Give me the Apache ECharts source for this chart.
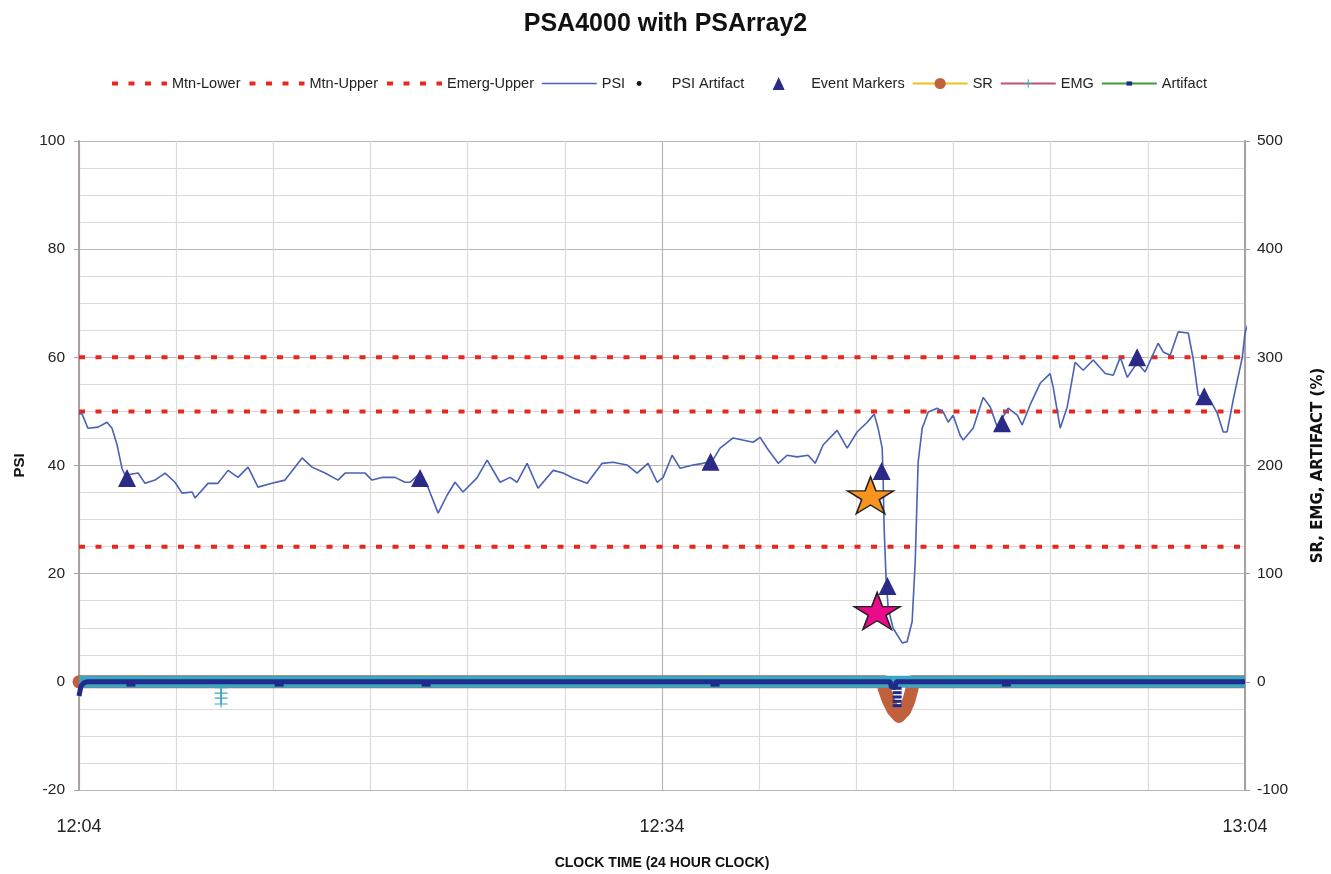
<!DOCTYPE html>
<html><head><meta charset="utf-8">
<script src="https://cdn.jsdelivr.net/npm/echarts@6/dist/echarts.min.js"></script>
<style>html,body{margin:0;padding:0;background:#fff}#c{width:1331px;height:874px}</style>
</head><body><div id="c"></div>
<script>
// ---- data ----
const xTickLabels = ['12:04', '12:34', '13:04'];
const psiMinutes = [0,0.15,0.46,0.98,1.44,1.70,1.96,2.21,2.37,3.04,3.40,3.91,4.43,4.94,5.30,5.82,5.97,6.64,7.15,7.67,8.18,8.70,9.21,9.93,10.60,11.48,11.99,12.66,13.33,13.69,14.72,15.08,15.59,16.26,16.78,17.04,17.55,17.91,18.48,18.94,19.35,19.76,20.48,21.00,21.67,22.18,22.54,23.06,23.62,24.40,24.91,25.42,26.15,26.92,27.48,28.20,28.72,29.28,29.75,30.06,30.52,30.93,31.60,32.11,32.58,32.99,33.66,34.69,35.05,35.41,35.98,36.44,36.95,37.52,37.88,38.29,39.01,39.53,40.04,40.56,40.92,41.12,41.33,41.38,41.43,41.53,41.64,41.89,42.36,42.61,42.87,43.03,43.18,43.39,43.70,44.16,44.47,44.73,44.98,45.34,45.50,46.01,46.53,46.89,47.25,47.81,48.28,48.53,48.94,49.46,49.97,50.13,50.49,50.85,51.26,51.67,52.19,52.81,53.22,53.58,53.94,54.45,54.86,55.53,55.79,56.15,56.56,57.08,57.33,57.59,58.21,58.57,58.88,59.08,59.39,59.86,60.0,60.3];
const psiValues = [49.5,49.6,46.9,47.1,48.0,46.9,43.8,39.5,38.2,38.6,36.7,37.3,38.6,36.9,34.9,35.1,34.0,36.7,36.7,39.1,37.8,39.7,36.0,36.7,37.3,41.4,39.7,38.6,37.3,38.6,38.6,37.3,37.8,37.8,36.9,36.9,38.6,36.4,31.2,34.5,36.9,35.1,37.7,41.0,36.9,37.8,36.9,40.4,35.8,39.1,38.6,37.7,36.7,40.4,40.6,40.1,38.6,40.4,36.9,37.8,41.9,39.5,40.1,40.4,40.8,43.2,45.1,44.3,45.2,43.2,40.4,41.9,41.6,41.9,40.4,43.8,46.5,43.2,46.2,48.0,49.5,46.9,43.2,37.7,28.4,19.2,13.6,9.9,7.2,7.4,11.1,22.2,40.6,46.9,49.9,50.6,49.9,48.0,49.3,45.6,44.7,46.9,52.6,50.8,47.1,50.6,49.3,47.5,51.2,55.2,57.0,54.5,46.9,50.8,59.1,57.6,59.5,57.0,56.7,60.0,56.3,59.0,57.3,62.6,61.0,60.4,64.7,64.5,59.8,53.0,52.1,49.7,46.2,46.2,52.1,60.0,64.5,67.8];
const limitMtnLower = 25;
const limitMtnUpper = 50;
const limitEmergUpper = 60;
const eventMinutes = [2.47, 17.55, 32.5, 41.3, 41.6, 47.5, 54.45, 57.9];
const eventValues = [37.7, 37.7, 40.7, 39.0, 17.7, 47.8, 60.0, 52.8];
const starMinutes = [40.73, 41.07];
const starValues = [34.5, 13.1];
const srPoints = [[0,0],[41.43,0],[41.43,-6],[41.64,-17],[41.89,-26],[42.19,-32],[42.5,-26],[42.71,-17],[42.87,-6],[42.87,0],[60,0]];
const emgLine = [[0,0],[60,0]];
const emgSpikes = [[7.31,-5.5],[7.31,-10.5],[7.31,-15],[7.31,-20.5]];
const artifactLine = [[0,-13],[0.1,-4],[0.25,-1],[0.4,0],[41.75,0],[41.8,-5],[42.0,-5],[42.05,0],[60,0]];
const artifactMarks = [[2.67,-3],[10.3,-3],[17.86,-3],[32.73,-3],[47.72,-3],[42.1,-6],[42.1,-10],[42.1,-14],[42.1,-18],[42.1,-22]];

// ---- styles ----
const F = "'Liberation Sans','Arial',sans-serif";
const RED = '#e8281e';
const DASH = [6, 10.5];
const STAR = 'path://M50,0 L61.23,34.55 L97.55,34.55 L68.17,55.9 L79.39,90.45 L50,69.1 L20.61,90.45 L31.83,55.9 L2.45,34.55 L38.77,34.55 Z';
const DOT = 'path://M0,0 M20,20 M13.5,10 A3.5,3.5 0 1 1 6.5,10 A3.5,3.5 0 1 1 13.5,10 Z';
const TRI_ICON = 'path://M0,0 M55,14 M27.5,0.5 L33.5,13.5 L21.5,13.5 Z';
const PLUS = 'path://M0,0 M16,16 M7.3,2 h1.4 v5.3 h5.3 v1.4 h-5.3 v5.3 h-1.4 v-5.3 h-5.3 v-1.4 h5.3z';
const PLUS_WIDE = 'path://M5.5,0 h1 v2.5 h5.5 v1 h-5.5 v2.5 h-1 v-2.5 h-5.5 v-1 h5.5z';
const SMALLRECT = 'path://M0,0 M16,16 M4,5 h8 v6 h-8z';
const HIDE = {opacity: 0, color: 'rgba(0,0,0,0)', borderWidth: 0};

const pair = (xs, ys) => xs.map((x, i) => [x, ys[i]]);
const flat = (v) => [[0, v], [60, v]];
const srData = srPoints.map((p, i) => i === 0 ? {value: p} : {value: p, symbol: 'none'});

const chart = echarts.init(document.getElementById('c'), null, {renderer: 'canvas'});
chart.setOption({
  animation: false,
  backgroundColor: '#fff',
  title: {
    text: 'PSA4000 with PSArray2', left: 'center', top: 7,
    textStyle: {fontFamily: F, fontSize: 25, fontWeight: 'bold', color: '#111'}
  },
  legend: {
    top: 71, left: 105, itemWidth: 55, itemHeight: 14, itemGap: 7,
    textStyle: {fontFamily: F, fontSize: 14.5, color: '#222'},
    data: [
      {name: 'Mtn-Lower', itemStyle: HIDE, lineStyle: {width: 4}},
      {name: 'Mtn-Upper', itemStyle: HIDE, lineStyle: {width: 4}},
      {name: 'Emerg-Upper', itemStyle: HIDE, lineStyle: {width: 4}},
      {name: 'PSI', itemStyle: HIDE, lineStyle: {width: 1.5}},
      {name: 'PSI Artifact'},
      {name: 'Event Markers', icon: TRI_ICON},
      {name: 'SR', itemStyle: {color: '#c0603c'}, lineStyle: {color: '#f2c01e', width: 2}},
      {name: 'EMG', itemStyle: {color: '#3aa3c0'}, lineStyle: {color: '#c0507a', width: 2}},
      {name: 'Artifact', itemStyle: {color: '#1f2a8a'}, lineStyle: {color: '#3f9a3f', width: 2}}
    ]
  },
  grid: {left: 79, right: 86, top: 141, bottom: 84, outerBoundsMode: 'none', containLabel: false},
  xAxis: {
    type: 'value', min: 0, max: 60, interval: 30,
    name: 'CLOCK TIME (24 HOUR CLOCK)', nameLocation: 'middle', nameGap: 66,
    nameTextStyle: {fontFamily: F, fontSize: 14, fontWeight: 'bold', color: '#111'},
    axisLine: {show: true, lineStyle: {color: '#a9a2a2', width: 1.5}},
    axisTick: {show: false},
    axisLabel: {margin: 28, fontFamily: F, fontSize: 18, color: '#222',
      formatter: (v) => xTickLabels[Math.round(v / 30)] || ''},
    splitLine: {show: true, lineStyle: {color: '#bdb5b5', width: 1.2}},
    minorTick: {show: false, splitNumber: 6},
    minorSplitLine: {show: true, lineStyle: {color: '#e0d9d9', width: 1.2}}
  },
  yAxis: [{
    type: 'value', min: -20, max: 100, interval: 20,
    name: 'PSI', nameLocation: 'middle', nameGap: 52,
    nameTextStyle: {fontFamily: F, fontSize: 15, fontWeight: 'bold', color: '#111'},
    axisLine: {show: true, lineStyle: {color: '#a9a2a2', width: 2}},
    axisTick: {show: true, length: 5, lineStyle: {color: '#a9a2a2'}},
    axisLabel: {margin: 14, fontFamily: F, fontSize: 15.5, color: '#222'},
    splitLine: {show: true, lineStyle: {color: '#bdb5b5', width: 1.2}},
    minorTick: {show: false, splitNumber: 4},
    minorSplitLine: {show: true, lineStyle: {color: '#e0d9d9', width: 1.2}}
  }, {
    type: 'value', min: -100, max: 500, interval: 100, position: 'right',
    name: 'SR, EMG, ARTIFACT (%)', nameLocation: 'middle', nameGap: 66, nameRotate: 90,
    nameTextStyle: {fontFamily: "'DejaVu Sans',sans-serif", fontSize: 15, fontWeight: 'bold', color: '#111'},
    axisLine: {show: true, lineStyle: {color: '#a9a2a2', width: 2}},
    axisTick: {show: true, length: 5, lineStyle: {color: '#a9a2a2'}},
    axisLabel: {margin: 12, fontFamily: F, fontSize: 15.5, color: '#222'},
    splitLine: {show: false}
  }],
  series: [
    {name: 'Mtn-Lower', type: 'line', data: flat(limitMtnLower), symbol: 'none', silent: true, z: 2,
      lineStyle: {color: RED, width: 4, type: DASH}, itemStyle: {color: RED}},
    {name: 'Mtn-Upper', type: 'line', data: flat(limitMtnUpper), symbol: 'none', silent: true, z: 2,
      lineStyle: {color: RED, width: 4, type: DASH}, itemStyle: {color: RED}},
    {name: 'Emerg-Upper', type: 'line', data: flat(limitEmergUpper), symbol: 'none', silent: true, z: 2,
      lineStyle: {color: RED, width: 4, type: DASH}, itemStyle: {color: RED}},
    {name: 'PSI', type: 'line', data: pair(psiMinutes, psiValues), symbol: 'none', clip: false, z: 3,
      lineStyle: {color: '#4862b4', width: 1.6}, itemStyle: {color: '#4862b4'}},
    {name: 'PSI Artifact', type: 'scatter', data: [], symbol: DOT, itemStyle: {color: '#111', opacity: 1}},
    {name: 'SR', type: 'line', yAxisIndex: 1, data: srData, symbol: 'circle', symbolSize: 13, z: 2,
      lineStyle: {color: '#c0603c', width: 13, join: 'round', cap: 'butt'}, itemStyle: {color: '#c0603c'}},
    {name: 'EMG', type: 'line', yAxisIndex: 1, data: emgLine, symbol: PLUS, showSymbol: false, z: 3,
      lineStyle: {color: '#3aa6c2', width: 12}, itemStyle: {color: '#3aa6c2'}},
    {name: 'EMG', type: 'line', yAxisIndex: 1, data: emgSpikes, symbol: PLUS_WIDE, symbolSize: [13, 7],
      symbolKeepAspect: false, z: 3,
      lineStyle: {color: '#3aa6c2', width: 1.5}, itemStyle: {color: '#3aa6c2'}},
    {name: 'Artifact', type: 'line', yAxisIndex: 1, data: artifactLine, symbol: SMALLRECT, showSymbol: false, z: 4,
      lineStyle: {color: '#1f2a8a', width: 5}, itemStyle: {color: '#1f2a8a'}},
    {name: 'Artifact', type: 'scatter', yAxisIndex: 1, data: artifactMarks, symbol: 'rect', symbolSize: [9, 3], z: 4,
      itemStyle: {color: '#1f2a8a', opacity: 1}},
    {name: 'Event Markers', type: 'scatter', data: pair(eventMinutes, eventValues), symbol: 'triangle', symbolSize: 18,
      itemStyle: {color: '#2b2a86', opacity: 1}, z: 5},
    {name: 'Stars', type: 'scatter', data: [{value: [starMinutes[0], starValues[0]], itemStyle: {color: '#f7931e'}},
                                           {value: [starMinutes[1], starValues[1]], itemStyle: {color: '#ec0a8c'}}],
      symbol: STAR, symbolSize: [46, 37], symbolKeepAspect: false,
      itemStyle: {borderColor: '#222', borderWidth: 1.5, opacity: 1}, z: 6}
  ]
});
</script>
</body></html>
